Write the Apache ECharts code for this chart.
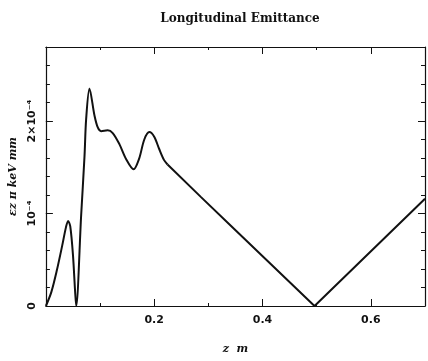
<!DOCTYPE html>
<html>
<head>
<meta charset="utf-8">
<script src="https://cdn.jsdelivr.net/npm/echarts@6/dist/echarts.min.js"></script>
<style>
  html, body { margin: 0; padding: 0; background: #fff; }
  #chart { width: 428px; height: 361px; }
</style>
</head>
<body>
<div id="chart"></div>
<script>
// z position (m) and emittance (units of 1e-4 pi keV mm)
// wavy front part (drawn smoothed)
var zFront = [0, 0.01, 0.02, 0.03, 0.037, 0.041, 0.045, 0.05, 0.054, 0.056,
  0.065, 0.0713, 0.0743, 0.0805, 0.0897, 0.0958, 0.102, 0.114, 0.1234,
  0.1357, 0.148, 0.162, 0.172, 0.1817, 0.191, 0.2, 0.209, 0.218, 0.2246];
var emitFront = [0, 0.15, 0.38, 0.65, 0.85, 0.92, 0.86, 0.55, 0.15, 0.0,
  0.97, 1.62, 2.02, 2.35, 2.06, 1.93, 1.89, 1.90, 1.87,
  1.75, 1.59, 1.478, 1.59, 1.80, 1.88, 1.83, 1.70, 1.58, 1.53];
// straight tail (V shape)
var zTail = [0.2246, 0.286, 0.341, 0.496, 0.7];
var emitTail = [1.53, 1.18, 0.87, 0.0, 1.16];
var xTickLabels = ['0.2', '0.4', '0.6'];
var yTickLabels = { 0: '0', 1: '10⁻⁴', 2: '2×10⁻⁴' };

function toPoints(zs, es) {
  return zs.map(function (z, i) { return [z, es[i] * 1e-4]; });
}

var fontLbl = 'DejaVu Sans';
var black = '#111';

function xAxisDef(pos, interval, len, showLabel, showLine) {
  return {
    type: 'value', position: pos, min: 0, max: 0.7, interval: interval,
    axisLine: { show: showLine, onZero: false, lineStyle: { color: black, width: 1.2 } },
    axisTick: { show: true, inside: true, length: len, lineStyle: { color: black, width: 1 } },
    splitLine: { show: false },
    axisLabel: {
      show: showLabel, color: black, fontFamily: fontLbl, fontWeight: 'bold', fontSize: 11, margin: 9,
      formatter: function (v) {
        var s = v.toFixed(1);
        return xTickLabels.indexOf(s) >= 0 ? s : '';
      }
    }
  };
}
function yAxisDef(pos, interval, len, showLabel, showLine) {
  return {
    type: 'value', position: pos, min: 0, max: 2.8e-4, interval: interval,
    axisLine: { show: showLine, onZero: false, lineStyle: { color: black, width: 1.2 } },
    axisTick: { show: true, inside: true, length: len, lineStyle: { color: black, width: 1 } },
    splitLine: { show: false },
    axisLabel: {
      show: showLabel, color: black, fontFamily: fontLbl, fontWeight: 'bold', fontSize: 11,
      rotate: 90, margin: 8,
      formatter: function (v) {
        var k = Math.round(v * 1e4 * 1000) / 1000;
        return yTickLabels.hasOwnProperty(k) ? yTickLabels[k] : '';
      }
    }
  };
}

var xs = [
  xAxisDef('bottom', 0.1, 3, true, true),
  xAxisDef('bottom', 0.2, 7, false, false),
  xAxisDef('top', 0.1, 3, false, true),
  xAxisDef('top', 0.2, 7, false, false)
];
xs[0].name = 'z  m';
xs[0].nameLocation = 'middle';
xs[0].nameGap = 38;
xs[0].nameTextStyle = { fontFamily: 'DejaVu Serif', fontStyle: 'italic', fontWeight: 'bold', fontSize: 11, color: black };

var ys = [
  yAxisDef('left', 0.2e-4, 4, true, true),
  yAxisDef('left', 1e-4, 7, false, false),
  yAxisDef('right', 0.2e-4, 4, false, true),
  yAxisDef('right', 1e-4, 7, false, false)
];
ys[0].name = 'εz π keV mm';
ys[0].nameLocation = 'middle';
ys[0].nameGap = 26;
ys[0].nameTextStyle = { fontFamily: 'DejaVu Serif', fontStyle: 'italic', fontWeight: 'bold', fontSize: 11, color: black };

var chart = echarts.init(document.getElementById('chart'));
chart.setOption({
  backgroundColor: '#fff',
  animation: false,
  title: {
    text: 'Longitudinal Emittance',
    left: 235, top: 8, textAlign: 'center',
    textStyle: { fontFamily: 'DejaVu Serif', fontWeight: 'bold', fontSize: 12, color: black }
  },
  grid: { left: 44, right: 3, top: 47, bottom: 55 },
  xAxis: xs,
  yAxis: ys,
  series: [{
    type: 'line',
    data: toPoints(zFront, emitFront),
    smooth: 0.3,
    showSymbol: false,
    lineStyle: { color: black, width: 2 }
  }, {
    type: 'line',
    data: toPoints(zTail, emitTail),
    smooth: false,
    showSymbol: false,
    lineStyle: { color: black, width: 2 }
  }]
});
</script>
</body>
</html>
